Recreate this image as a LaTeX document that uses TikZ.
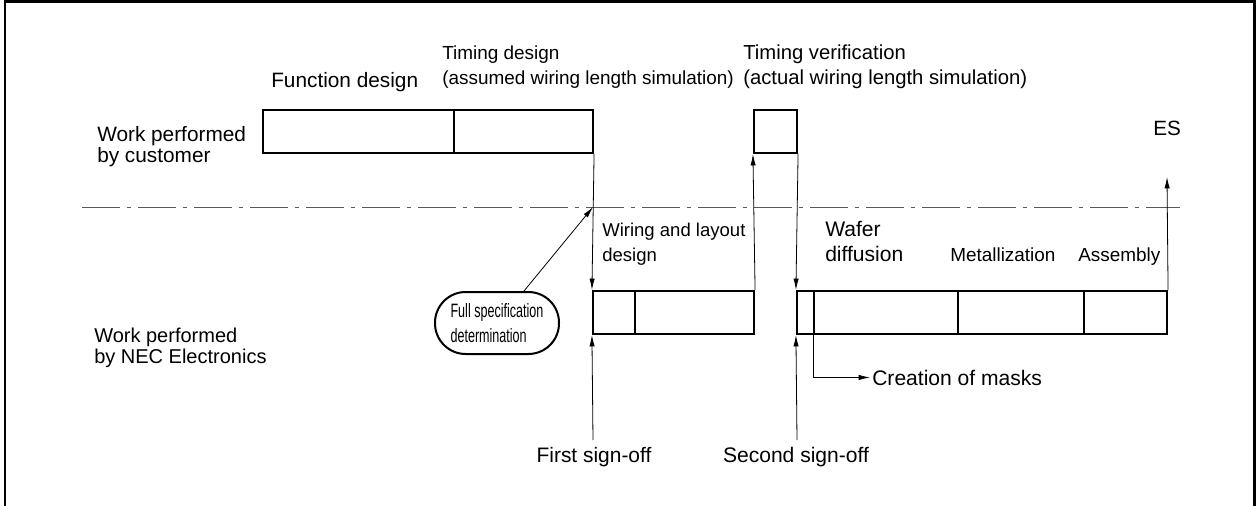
\documentclass[tikz,border=0pt]{standalone}
\usepackage{fontspec}
\usepackage{graphicx}
\setmainfont{Liberation Sans}
\usetikzlibrary{arrows.meta,fit}
\begin{document}
\begin{tikzpicture}[x=0.75pt,y=-0.75pt,
  seg/.style={draw, line width=1.6pt, inner sep=0pt},
  arr/.style={-{Latex[length=8.5pt,width=4pt]}, line width=0.6pt},
  lbl/.style={inner sep=0pt, align=left, anchor=base west},
  sz/.style n args={2}{font=\fontsize{#1}{#2}\selectfont},
  frameline/.style={line width=2.2pt},
  split/.style={dash pattern=on 28.5pt off 5.25pt on 3pt off 5.25pt, line width=0.6pt, black!65},
  pill/.style={draw, line width=1.5pt, rounded corners=23pt, minimum width=93pt,
               minimum height=46.5pt, inner sep=0pt, align=left,
               font=\fontsize{14.5}{18.75}\selectfont}]
\useasboundingbox (0,0) rectangle (1257,506);

% outer frame (open at the bottom)
\draw[frameline] (5,510) -- (5,1.5) -- (1254.5,1.5) -- (1254.5,510);

% boundary between customer and NEC Electronics
\draw[split] (82,207) -- (1180,207);

% customer work
\node[seg, fit={(263,110) (454,153)}] (fd) {};
\node[seg, fit={(454,110) (593,153)}] (td) {};
\node[seg, fit={(754,110) (797,153)}] (tv) {};

% NEC Electronics work
\node[seg, fit={(593,291) (635,334)}] (wl1) {};
\node[seg, fit={(635,291) (754,334)}] (wl2) {};
\node[seg, fit={(797,291) (814,334)}] (wd1) {};
\node[seg, fit={(814,291) (958,334)}] (wd2) {};
\node[seg, fit={(958,291) (1084,334)}] (met) {};
\node[seg, fit={(1084,291) (1167,334)}] (asm) {};

% labels (anchored at the baseline of their last line)
\node[lbl, sz={15.6}{18.75}] (lfd) at (271,88) {Function design};
\node[lbl, sz={14.2}{18.75}] (ltd) at (442,85) {Timing design\\(assumed wiring length simulation)};
\node[lbl, sz={15.2}{18.75}] (ltv) at (743,85) {Timing verification\\(actual wiring length simulation)};
\node[lbl, sz={15.5}{18.75}] (les) at (1153,136) {ES};
\node[lbl, sz={15.6}{15.75}] (wcust) at (97,163) {Work performed\\by customer};
\node[lbl, sz={15}{15.75}] (wnec) at (94,363) {Work performed\\by NEC Electronics};
\node[lbl, sz={13.9}{18.75}] (lwl) at (602,262) {Wiring and layout\\design};
\node[lbl, sz={15.8}{18.75}] (lwd) at (825,262) {Wafer\\diffusion};
\node[lbl, sz={14.2}{18.75}] (lmet) at (950,262) {Metallization};
\node[lbl, sz={14.2}{18.75}] (lasm) at (1078,262) {Assembly};
\node[lbl, sz={15.7}{18.75}, anchor=base] (so1) at (594,462) {First sign-off};
\node[lbl, sz={15.8}{18.75}, anchor=base] (so2) at (796,462) {Second sign-off};
\node[lbl, sz={15.8}{18.75}] (masks) at (872,385) {Creation of masks};

% full specification callout
\node[pill] (fs) at (497,323)
  {\scalebox{0.65}[1]{Full specification}\\\scalebox{0.65}[1]{determination}};
\coordinate (fso) at (593,207);
\draw[arr] ([xshift=20.25pt]fs.north) -- (fso);

% hand-overs between customer and NEC Electronics
\draw[arr] (td.south east) -- (wl1.north west);
\draw[arr] (wl2.north east) -- (tv.south west);
\draw[arr] (tv.south east) -- (wd1.north west);
\coordinate (esin) at (1167,177);
\draw[arr] (asm.north east) -- (esin);

% sign-off markers
\coordinate (s1) at (593,440);
\coordinate (s2) at (797,440);
\draw[arr] (s1) -- (wl1.south west);
\draw[arr] (s2) -- (wd1.south west);

% mask creation
\draw[arr] (wd2.south west) |- ([xshift=-1.5pt]masks.west);
\end{tikzpicture}
\end{document}
